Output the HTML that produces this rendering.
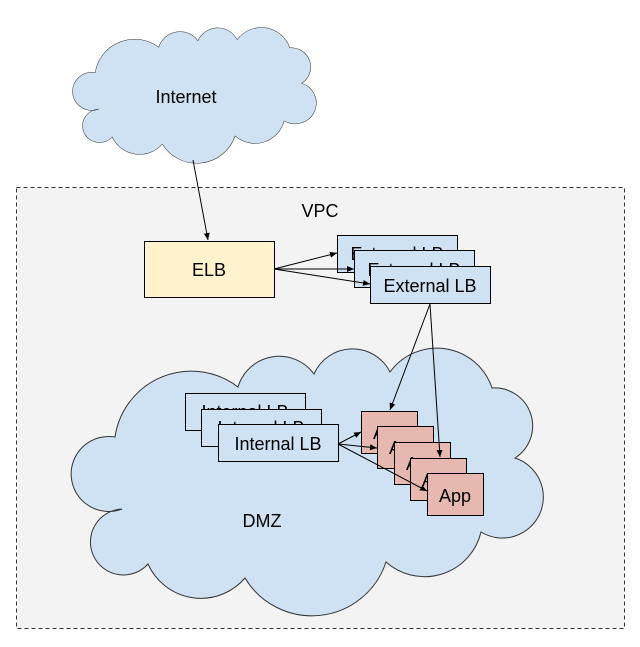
<!DOCTYPE html>
<html><head><style>
html,body{margin:0;padding:0;background:#fff;}
svg{display:block;}
text{font-family:"Liberation Sans",Arial,sans-serif;font-size:18px;fill:#000;}
</style></head><body>
<svg width="640" height="647" viewBox="0 0 640 647" xmlns="http://www.w3.org/2000/svg">
<defs>
<marker id="ah" markerWidth="8" markerHeight="8" refX="7" refY="4" orient="auto" markerUnits="userSpaceOnUse">
<path d="M0,1 L7,4 L0,7 Z" fill="#000"/>
</marker>
<path id="cloud" d="M115,437 A77,77 0 0 1 238,387 A43,43 0 0 1 314,374 A42,42 0 0 1 390,372 A58,58 0 0 1 492,388 A38,38 0 0 1 515,458 A41,41 0 1 1 481,532 A58,58 0 0 1 386,562 A78,78 0 0 1 245,578 A58,58 0 0 1 148,564 A33,33 0 1 1 122,509 A37.5,37.5 0 1 1 115,437 Z"/>
</defs>
<rect x="16.5" y="187.5" width="608" height="441" fill="#f3f3f3" stroke="#333" stroke-dasharray="4,3"/>
<g transform="translate(72,28) scale(0.516,0.507) translate(-70,-349)">
<use href="#cloud" fill="#cfe2f3" stroke="#333" stroke-width="1" vector-effect="non-scaling-stroke"/>
</g>
<text x="186" y="103" text-anchor="middle">Internet</text>
<text x="320" y="217" text-anchor="middle">VPC</text>
<use href="#cloud" fill="#cfe2f3" stroke="#333" stroke-width="1"/>
<text x="262" y="527" text-anchor="middle">DMZ</text>

<rect x="144.5" y="241.5" width="130" height="56" fill="#fff2cc" stroke="#000"/>
<text x="209" y="276" text-anchor="middle">ELB</text>

<rect x="337.5" y="235.5" width="120" height="37" fill="#cfe2f3" stroke="#000"/>
<text x="397" y="260" text-anchor="middle">External LB</text>
<rect x="354.5" y="250.5" width="120" height="37" fill="#cfe2f3" stroke="#000"/>
<text x="414" y="276" text-anchor="middle">External LB</text>
<rect x="370.5" y="266.5" width="120" height="37" fill="#cfe2f3" stroke="#000"/>
<text x="430" y="292" text-anchor="middle">External LB</text>

<rect x="185.5" y="393.5" width="120" height="37" fill="#cfe2f3" stroke="#000"/>
<text x="245" y="418" text-anchor="middle">Internal LB</text>
<rect x="201.5" y="409.5" width="120" height="37" fill="#cfe2f3" stroke="#000"/>
<text x="261" y="434" text-anchor="middle">Internal LB</text>
<rect x="218.5" y="424.5" width="120" height="37" fill="#cfe2f3" stroke="#000"/>
<text x="278" y="450" text-anchor="middle">Internal LB</text>

<rect x="361.5" y="411.5" width="56" height="42" fill="#e6b8af" stroke="#000"/>
<text x="389" y="439" text-anchor="middle">App</text>
<rect x="377.5" y="426.5" width="56" height="42" fill="#e6b8af" stroke="#000"/>
<text x="405" y="454" text-anchor="middle">App</text>
<rect x="394.5" y="442.5" width="56" height="42" fill="#e6b8af" stroke="#000"/>
<text x="422" y="470" text-anchor="middle">App</text>
<rect x="410.5" y="458.5" width="56" height="42" fill="#e6b8af" stroke="#000"/>
<text x="438" y="486" text-anchor="middle">App</text>
<rect x="427.5" y="473.5" width="56" height="42" fill="#e6b8af" stroke="#000"/>
<text x="455" y="502" text-anchor="middle">App</text>

<g stroke="#000" stroke-width="1" fill="none" marker-end="url(#ah)">
<line x1="193" y1="160" x2="208" y2="240"/>
<line x1="274" y1="269" x2="337" y2="253"/>
<line x1="274" y1="269" x2="354" y2="269"/>
<line x1="274" y1="269" x2="370" y2="284"/>
<line x1="430" y1="304" x2="390" y2="410"/>
<line x1="430" y1="304" x2="440" y2="457"/>
<line x1="338" y1="444" x2="361" y2="432"/>
<line x1="338" y1="444" x2="377" y2="448"/>
<line x1="338" y1="444" x2="427" y2="491"/>
</g>
</svg>
</body></html>
